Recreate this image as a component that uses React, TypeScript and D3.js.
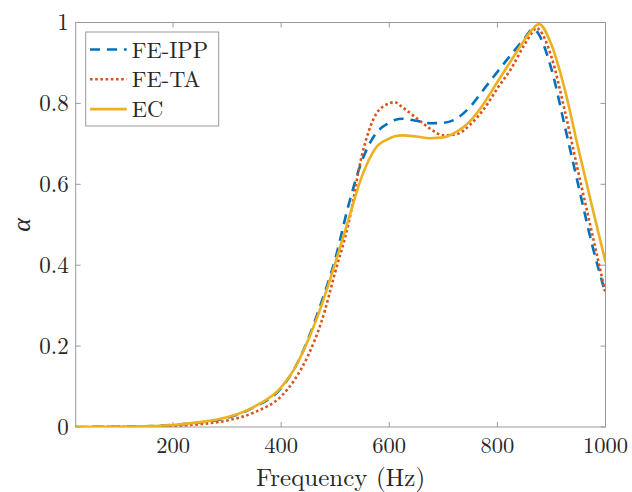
import React from "react";
import * as d3 from "d3";

const freqs = [20, 100, 150, 200, 250, 300, 350, 400, 425, 450, 475, 500, 525, 550, 575, 600, 610, 625, 650, 675, 700, 725, 750, 775, 800, 825, 850, 866, 872, 877, 900, 925, 950, 975, 1000];

const feIPP = [0, 0.0008, 0.002, 0.005, 0.011, 0.023, 0.049, 0.096, 0.145, 0.218, 0.31, 0.415, 0.55, 0.66, 0.725, 0.752, 0.759, 0.762, 0.757, 0.751, 0.752, 0.763, 0.792, 0.835, 0.878, 0.92, 0.96, 0.984, 0.98, 0.97, 0.885, 0.742, 0.596, 0.452, 0.33];

const feTA = [0, 0.0004, 0.001, 0.003, 0.007, 0.016, 0.036, 0.076, 0.117, 0.177, 0.262, 0.383, 0.505, 0.675, 0.772, 0.8, 0.803, 0.79, 0.764, 0.738, 0.721, 0.724, 0.748, 0.786, 0.837, 0.885, 0.945, 0.978, 0.987, 0.983, 0.915, 0.78, 0.628, 0.48, 0.33];

const ec = [0, 0.0008, 0.002, 0.005, 0.012, 0.024, 0.05, 0.098, 0.145, 0.215, 0.302, 0.405, 0.515, 0.622, 0.69, 0.713, 0.719, 0.721, 0.718, 0.714, 0.716, 0.73, 0.757, 0.8, 0.853, 0.905, 0.957, 0.985, 0.993, 0.996, 0.945, 0.833, 0.687, 0.546, 0.408];

const xTicks = [200, 400, 600, 800, 1000];
const yTicks = [0, 0.2, 0.4, 0.6, 0.8, 1];
const yTickLabels = ["0", "0.2", "0.4", "0.6", "0.8", "1"];

const seriesNames = ["FE-IPP", "FE-TA", "EC"];
const seriesColors = ["#0072BD", "#D95319", "#EDB120"];
const seriesDash = ["10,7", "2.6,2.6", "none"];

const W = 632;
const H = 492;
const left = 75.7;
const right = 605.5;
const top = 22.5;
const bottom = 427;

const FONT = "'Latin Modern Roman','CMU Serif','Liberation Serif','Times New Roman',serif";

export default function App() {
  const x = d3.scaleLinear().domain([20, 1000]).range([left, right]);
  const y = d3.scaleLinear().domain([0, 1]).range([bottom, top]);
  const series = [feIPP, feTA, ec];
  const line = d3
    .line<number>()
    .x((_, i) => x(freqs[i]))
    .y((d) => y(d))
    .curve(d3.curveMonotoneX);

  const axisColor = "#9a9a9a";
  const textColor = "#262626";
  const tickLen = 5;

  const legX = 85.7;
  const legY = 32;
  const legW = 133;
  const legH = 94;
  const legRows = [49.5, 79.3, 109.1];

  return (
    <svg
      width={W}
      height={H}
      style={{ position: "absolute", left: 0, top: 0, background: "#fff" }}
      fontFamily={FONT}
    >
      <rect x={0} y={0} width={W} height={H} fill="#fff" />
      <defs>
        <clipPath id="plotclip">
          <rect x={left} y={top - 3} width={right - left} height={bottom - top + 3} />
        </clipPath>
      </defs>

      {/* ticks */}
      {xTicks.map((t) => (
        <g key={"xt" + t}>
          <line x1={x(t)} x2={x(t)} y1={bottom} y2={bottom - tickLen} stroke={axisColor} strokeWidth={1} />
          <line x1={x(t)} x2={x(t)} y1={top} y2={top + tickLen} stroke={axisColor} strokeWidth={1} />
          <text x={x(t)} y={bottom + 25.5} textAnchor="middle" fontSize={22.5} fill={textColor}>
            {t}
          </text>
        </g>
      ))}
      {yTicks.map((t, i) => (
        <g key={"yt" + t}>
          <line x1={left} x2={left + tickLen} y1={y(t)} y2={y(t)} stroke={axisColor} strokeWidth={1} />
          <line x1={right} x2={right - tickLen} y1={y(t)} y2={y(t)} stroke={axisColor} strokeWidth={1} />
          <text x={left - 7} y={y(t) + 7.5} textAnchor="end" fontSize={23} fill={textColor}>
            {yTickLabels[i]}
          </text>
        </g>
      ))}

      {/* box */}
      <rect x={left} y={top} width={right - left} height={bottom - top} fill="none" stroke={axisColor} strokeWidth={1} />

      {/* lines */}
      <g clipPath="url(#plotclip)">
        {series.map((s, i) => (
          <path
            key={seriesNames[i]}
            d={line(s) || ""}
            fill="none"
            stroke={seriesColors[i]}
            strokeWidth={2.6}
            strokeDasharray={seriesDash[i]}
            strokeLinejoin="round"
          />
        ))}
      </g>

      {/* axis labels */}
      <text x={(left + right) / 2} y={485.5} textAnchor="middle" fontSize={25} fill={textColor}>
        Frequency (Hz)
      </text>
      <text
        transform={`translate(19, 225) rotate(-90)`}
        textAnchor="middle"
        dominantBaseline="central"
        fontSize={26}
        fontStyle="italic"
        fill={textColor}
      >
        α
      </text>

      {/* legend */}
      <rect x={legX} y={legY} width={legW} height={legH} fill="#fff" stroke={axisColor} strokeWidth={1} />
      {seriesNames.map((n, i) => (
        <g key={"leg" + n}>
          <line
            x1={90}
            x2={126.7}
            y1={legRows[i]}
            y2={legRows[i]}
            stroke={seriesColors[i]}
            strokeWidth={2.6}
            strokeDasharray={seriesDash[i]}
          />
          <text x={131.7} y={legRows[i] + 8} fontSize={22.5} fill={textColor}>
            {n}
          </text>
        </g>
      ))}
    </svg>
  );
}
